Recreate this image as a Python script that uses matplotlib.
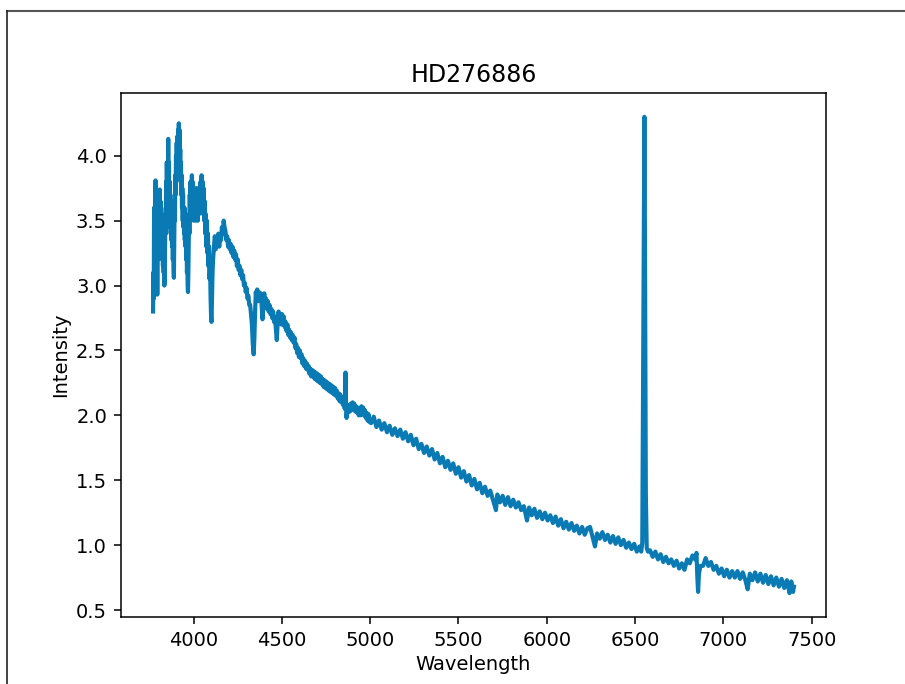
import matplotlib
matplotlib.use("Agg")
import matplotlib.pyplot as plt
from matplotlib.lines import Line2D

# spectrum ------------------------------------------------------------>

wavelength = [
    # blue end, Balmer series / Ca H&K
    3770, 3772, 3774, 3776, 3778, 3780, 3782, 3784, 3786, 3788, 3790, 3792, 3794, 3796,
    3798, 3800, 3802, 3804, 3806, 3808, 3810, 3812, 3814, 3816, 3818, 3820, 3822, 3824,
    3826, 3828, 3830, 3832, 3834, 3836, 3838, 3840, 3842, 3844, 3846, 3848, 3850, 3852,
    3854, 3856, 3858, 3860, 3862, 3864, 3866, 3868, 3870, 3872, 3874, 3876, 3878, 3880,
    3882, 3884, 3886, 3888, 3890, 3892, 3894, 3896, 3898, 3900, 3902, 3904, 3906, 3908,
    3910, 3912, 3914, 3916, 3918, 3920, 3922, 3924, 3926, 3928, 3930, 3932, 3934, 3936,
    3938, 3940, 3942, 3944, 3946, 3948, 3950, 3952, 3954, 3956, 3958, 3960, 3962, 3964,
    3966, 3968, 3970, 3972, 3974, 3976, 3978, 3980, 3982, 3984, 3986, 3988, 3990, 3992,
    3994, 3996, 3998, 4000, 4003, 4006, 4009, 4012, 4015, 4018, 4021, 4024, 4027, 4030,
    4033, 4036, 4039, 4042, 4045, 4048, 4051, 4054, 4057, 4060, 4063, 4066, 4069, 4072,
    4075, 4078, 4081, 4084, 4087, 4090, 4093, 4096, 4099, 4101, 4104, 4107,
    # 4110 - 5000
    4110, 4115, 4120,
    4125, 4130, 4135, 4140, 4145, 4150, 4155, 4160, 4165, 4170, 4175, 4180, 4185, 4190,
    4195, 4200, 4205, 4210, 4215, 4220, 4225, 4230, 4235, 4240, 4245, 4250, 4255, 4260,
    4265, 4270, 4275, 4280, 4285, 4290, 4295, 4300, 4305, 4310, 4315, 4320, 4325, 4330,
    4335, 4340, 4344, 4348, 4352, 4356, 4360, 4365, 4370, 4375, 4380, 4385, 4390, 4395,
    4400, 4405, 4410, 4415, 4420, 4425, 4430, 4435, 4440, 4445, 4450, 4455, 4460, 4465,
    4471, 4476, 4481, 4486, 4491, 4496, 4501, 4506, 4511, 4516, 4521, 4526, 4531, 4536,
    4541, 4546, 4551, 4556, 4561, 4566, 4571, 4576, 4581, 4586, 4591, 4596, 4601, 4606,
    4611, 4616, 4621, 4626, 4631, 4636, 4641, 4646, 4651, 4656, 4661, 4666, 4671, 4676,
    4681, 4686, 4691, 4696, 4701, 4706, 4711, 4716, 4721, 4726, 4731, 4736, 4741, 4746,
    4751, 4756, 4761, 4766, 4771, 4776, 4781, 4786, 4791, 4796, 4801, 4806, 4811, 4816,
    4821, 4826, 4831, 4836, 4841, 4846, 4851, 4856, 4860, 4863, 4866, 4870, 4875, 4880,
    4885, 4890, 4895, 4900, 4905, 4910, 4915, 4920, 4925, 4930, 4935, 4940, 4945, 4950,
    4955, 4960, 4965, 4970, 4975, 4980, 4985, 4990, 4995,
    # 5000 - 7400
    5005, 5020, 5035, 5050, 5065,
    5080, 5095, 5110, 5125, 5140, 5155, 5170, 5185, 5200, 5215, 5230, 5245, 5260, 5275,
    5290, 5305, 5320, 5335, 5350, 5365, 5380, 5395, 5410, 5425, 5440, 5455, 5470, 5485,
    5500, 5515, 5530, 5545, 5560, 5575, 5590, 5605, 5620, 5635, 5650, 5665, 5680, 5695,
    5712, 5720, 5735, 5750, 5765, 5780, 5795, 5810, 5825, 5840, 5855, 5870, 5888, 5900,
    5915, 5930, 5945, 5960, 5975, 5990, 6005, 6020, 6035, 6050, 6065, 6080, 6095, 6110,
    6125, 6140, 6155, 6170, 6185, 6200, 6215, 6230, 6245, 6260, 6273, 6285, 6300, 6315,
    6330, 6345, 6360, 6375, 6390, 6405, 6420, 6435, 6450, 6465, 6480, 6495, 6510, 6525,
    6535, 6541, 6549, 6553, 6556, 6561, 6566, 6573, 6585, 6600, 6615, 6630, 6645, 6660,
    6675, 6690, 6705, 6720, 6735, 6750, 6765, 6780, 6795, 6810, 6825, 6840, 6848, 6853,
    6857, 6862, 6870, 6885, 6900, 6915, 6930, 6945, 6960, 6975, 6990, 7005, 7020, 7035,
    7050, 7065, 7080, 7095, 7110, 7125, 7138, 7150, 7165, 7180, 7195, 7210, 7225, 7240,
    7255, 7270, 7285, 7300, 7315, 7330, 7345, 7360, 7375, 7385, 7395, 7400,
]

intensity = [
    # blue end
    2.80, 3.10, 2.90, 3.60, 3.00, 3.50, 3.10, 3.81, 3.20, 3.70, 3.10, 3.60, 2.93, 3.55,
    3.20, 3.65, 3.30, 3.72, 3.35, 3.74, 3.40, 3.65, 3.30, 3.60, 3.25, 3.55, 3.20, 3.50,
    3.15, 3.45, 3.10, 3.35, 3.00, 3.05, 3.30, 3.55, 3.40, 3.80, 3.55, 3.95, 3.70, 3.90,
    3.75, 4.13, 3.70, 3.95, 3.55, 3.80, 3.45, 3.70, 3.40, 3.65, 3.35, 3.55, 3.30, 3.50,
    3.20, 3.40, 3.15, 3.06, 3.30, 3.60, 3.50, 3.85, 3.70, 4.00, 3.85, 4.10, 3.90, 4.15,
    3.95, 4.20, 4.00, 4.25, 4.05, 4.20, 3.90, 4.05, 3.80, 3.95, 3.70, 3.85, 3.60, 3.75,
    3.50, 3.70, 3.45, 3.60, 3.40, 3.60, 3.35, 3.55, 3.30, 3.45, 3.20, 3.35, 3.10, 3.20,
    3.00, 2.95, 3.10, 3.35, 3.55, 3.40, 3.70, 3.50, 3.80, 3.55, 3.75, 3.60, 3.85, 3.60,
    3.80, 3.55, 3.75, 3.50, 3.70, 3.55, 3.75, 3.50, 3.70, 3.55, 3.75, 3.50, 3.70, 3.55,
    3.75, 3.60, 3.80, 3.60, 3.85, 3.65, 3.80, 3.55, 3.75, 3.50, 3.65, 3.40, 3.55, 3.30,
    3.50, 3.25, 3.40, 3.15, 3.30, 3.05, 3.15, 2.90, 2.75, 2.72, 2.90, 3.10,
    # 4110 - 5000
    3.20, 3.30, 3.38,
    3.28, 3.35, 3.32, 3.40, 3.30, 3.38, 3.35, 3.45, 3.40, 3.50, 3.45, 3.42, 3.35, 3.38,
    3.30, 3.35, 3.28, 3.32, 3.25, 3.30, 3.22, 3.27, 3.20, 3.24, 3.15, 3.20, 3.12, 3.15,
    3.08, 3.12, 3.05, 3.08, 3.00, 3.02, 2.95, 2.98, 2.90, 2.92, 2.85, 2.85, 2.78, 2.70,
    2.55, 2.47, 2.60, 2.80, 2.95, 2.90, 2.97, 2.88, 2.95, 2.90, 2.94, 2.85, 2.74, 2.88,
    2.94, 2.85, 2.90, 2.82, 2.88, 2.80, 2.85, 2.78, 2.82, 2.75, 2.80, 2.72, 2.76, 2.68,
    2.58, 2.72, 2.80, 2.72, 2.78, 2.70, 2.78, 2.70, 2.76, 2.68, 2.72, 2.65, 2.70, 2.62,
    2.66, 2.60, 2.64, 2.58, 2.62, 2.56, 2.60, 2.52, 2.55, 2.48, 2.52, 2.45, 2.50, 2.44,
    2.47, 2.40, 2.44, 2.38, 2.42, 2.36, 2.40, 2.35, 2.38, 2.32, 2.36, 2.30, 2.35, 2.30,
    2.34, 2.28, 2.33, 2.27, 2.32, 2.26, 2.31, 2.25, 2.30, 2.24, 2.28, 2.22, 2.27, 2.21,
    2.26, 2.20, 2.25, 2.19, 2.24, 2.18, 2.23, 2.17, 2.22, 2.16, 2.21, 2.15, 2.19, 2.13,
    2.17, 2.11, 2.16, 2.10, 2.14, 2.08, 2.10, 2.05, 2.33, 2.10, 1.98, 2.06, 2.02, 2.08,
    2.03, 2.09, 2.04, 2.10, 2.05, 2.09, 2.03, 2.07, 2.02, 2.06, 2.00, 2.05, 2.00, 2.07,
    2.01, 2.06, 2.00, 2.04, 1.98, 2.02, 1.96, 2.01, 1.95,
    # 5000 - 7400
    1.94, 1.99, 1.91, 1.96, 1.89,
    1.94, 1.87, 1.92, 1.85, 1.90, 1.84, 1.89, 1.82, 1.87, 1.80, 1.85, 1.77, 1.82, 1.74,
    1.78, 1.71, 1.76, 1.69, 1.74, 1.66, 1.71, 1.63, 1.68, 1.60, 1.65, 1.58, 1.63, 1.55,
    1.60, 1.52, 1.57, 1.49, 1.54, 1.46, 1.51, 1.43, 1.48, 1.40, 1.45, 1.38, 1.42, 1.35,
    1.27, 1.39, 1.33, 1.38, 1.31, 1.37, 1.30, 1.35, 1.29, 1.33, 1.27, 1.30, 1.19, 1.29,
    1.23, 1.28, 1.21, 1.26, 1.20, 1.25, 1.19, 1.23, 1.17, 1.22, 1.15, 1.20, 1.13, 1.18,
    1.12, 1.17, 1.11, 1.15, 1.09, 1.14, 1.08, 1.13, 1.14, 1.06, 0.99, 1.09, 1.05, 1.10,
    1.04, 1.08, 1.02, 1.07, 1.01, 1.06, 1.00, 1.04, 0.98, 1.02, 0.97, 1.01, 0.95, 0.99,
    0.95, 1.02, 3.20, 4.30, 3.40, 1.40, 0.98, 0.95, 0.96, 0.91, 0.95, 0.89, 0.93, 0.87,
    0.91, 0.86, 0.89, 0.84, 0.88, 0.82, 0.86, 0.81, 0.89, 0.86, 0.92, 0.89, 0.94, 0.75,
    0.64, 0.78, 0.84, 0.84, 0.90, 0.84, 0.87, 0.81, 0.84, 0.78, 0.82, 0.76, 0.81, 0.75,
    0.80, 0.75, 0.80, 0.74, 0.79, 0.73, 0.66, 0.78, 0.73, 0.79, 0.72, 0.78, 0.71, 0.77,
    0.70, 0.76, 0.69, 0.75, 0.68, 0.74, 0.67, 0.73, 0.63, 0.72, 0.64, 0.68,
]

title = "HD276886"

fig = plt.figure(figsize=(9.05, 6.84), dpi=100)
ax = fig.add_axes([0.1337, 0.098, 0.779, 0.766])

ax.plot(wavelength, intensity, color="#0a7ab5", linewidth=3.0)

ax.set_title(title, fontsize=17, pad=8)
ax.set_xlabel("Wavelength", fontsize=14)
ax.set_ylabel("Intensity", fontsize=14)
ax.tick_params(labelsize=14, length=5, width=1.1, pad=5)
for s in ax.spines.values():
    s.set_linewidth(1.1)

# frame of the screenshot
fx = 7 / 905
fy = 1 - 11 / 684
fig.add_artist(Line2D([fx, 1], [fy, fy], transform=fig.transFigure, color="#555555", lw=1.5))
fig.add_artist(Line2D([fx, fx], [0, fy], transform=fig.transFigure, color="#222222", lw=1.2))

fig.savefig("out.png", dpi=100)
